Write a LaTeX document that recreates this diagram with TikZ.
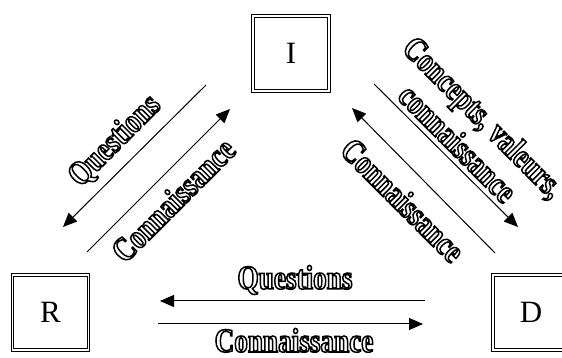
\documentclass[tikz,border=0pt]{standalone}
\usepackage{fontspec}
\setmainfont{Liberation Serif}
\newfontfamily\labelfont[FakeStretch=0.8]{Liberation Serif}
\usepackage{xcolor}
\usepackage{tikz}
\usetikzlibrary{arrows.meta,positioning}
\newcommand{\hollow}[1]{\special{pdf:literal direct 1 Tr 1.5 w}#1\special{pdf:literal direct 0 Tr}}

\begin{document}
\begin{tikzpicture}[x=1pt, y=1pt]
\tikzstyle{frame} = [rectangle, draw, line width=1.2pt, double=white, double distance=1.5pt, minimum width=76pt, minimum height=75pt, font=\fontsize{31}{34}\selectfont]
\tikzstyle{line} = [draw, line width=1pt, -{Triangle[length=14pt, width=12pt]}]
\tikzstyle{label} = [inner sep=0pt, font=\labelfont\bfseries\fontsize{34}{37}\selectfont]

\useasboundingbox (0,0) rectangle (562,358);

% les trois cadres
\node [frame] (I) at (291,304.5) {I};
\node [frame] (R) at (50.5,45.5) {R};
\node [frame] (D) at (531,45.5) {D};

% extremites des fleches
\coordinate (qIR) at (206,273);
\coordinate (qRI) at (63,131);
\coordinate (cRI) at (87,106);
\coordinate (cIR) at (230,249);
\coordinate (cDI) at (495,105);
\coordinate (cID) at (352,250);
\coordinate (vID) at (374,274);
\coordinate (vDI) at (518,131);
\coordinate (qDR) at (425,57);
\coordinate (qRD) at (160,57);
\coordinate (cRD) at (158,34);
\coordinate (cDR) at (423,34);

\path [line] (qIR) -- (qRI);
\path [line] (cRI) -- (cIR);
\path [line] (cDI) -- (cID);
\path [line] (vID) -- (vDI);
\path [line] (qDR) -- (qRD);
\path [line] (cRD) -- (cDR);

% textes
\node [label, rotate=45] (tqIR) at (115,217) {\hollow{Questions}};
\node [label, rotate=45] (tcRI) at (173,158) {\hollow{Connaissance}};
\node [label, rotate=-45] (tcDI) at (403,158) {\hollow{Connaissance}};
\node [label, rotate=-45, align=center] (tvID) at (471,228) {\hollow{Concepts, valeurs,}\\\hollow{connaissance}};
\node [label, anchor=base] (tqDR) at (295,69) {\hollow{Questions}};
\node [label, anchor=base] (tcRD) at (294,6) {\hollow{Connaissance}};
\end{tikzpicture}
\end{document}
